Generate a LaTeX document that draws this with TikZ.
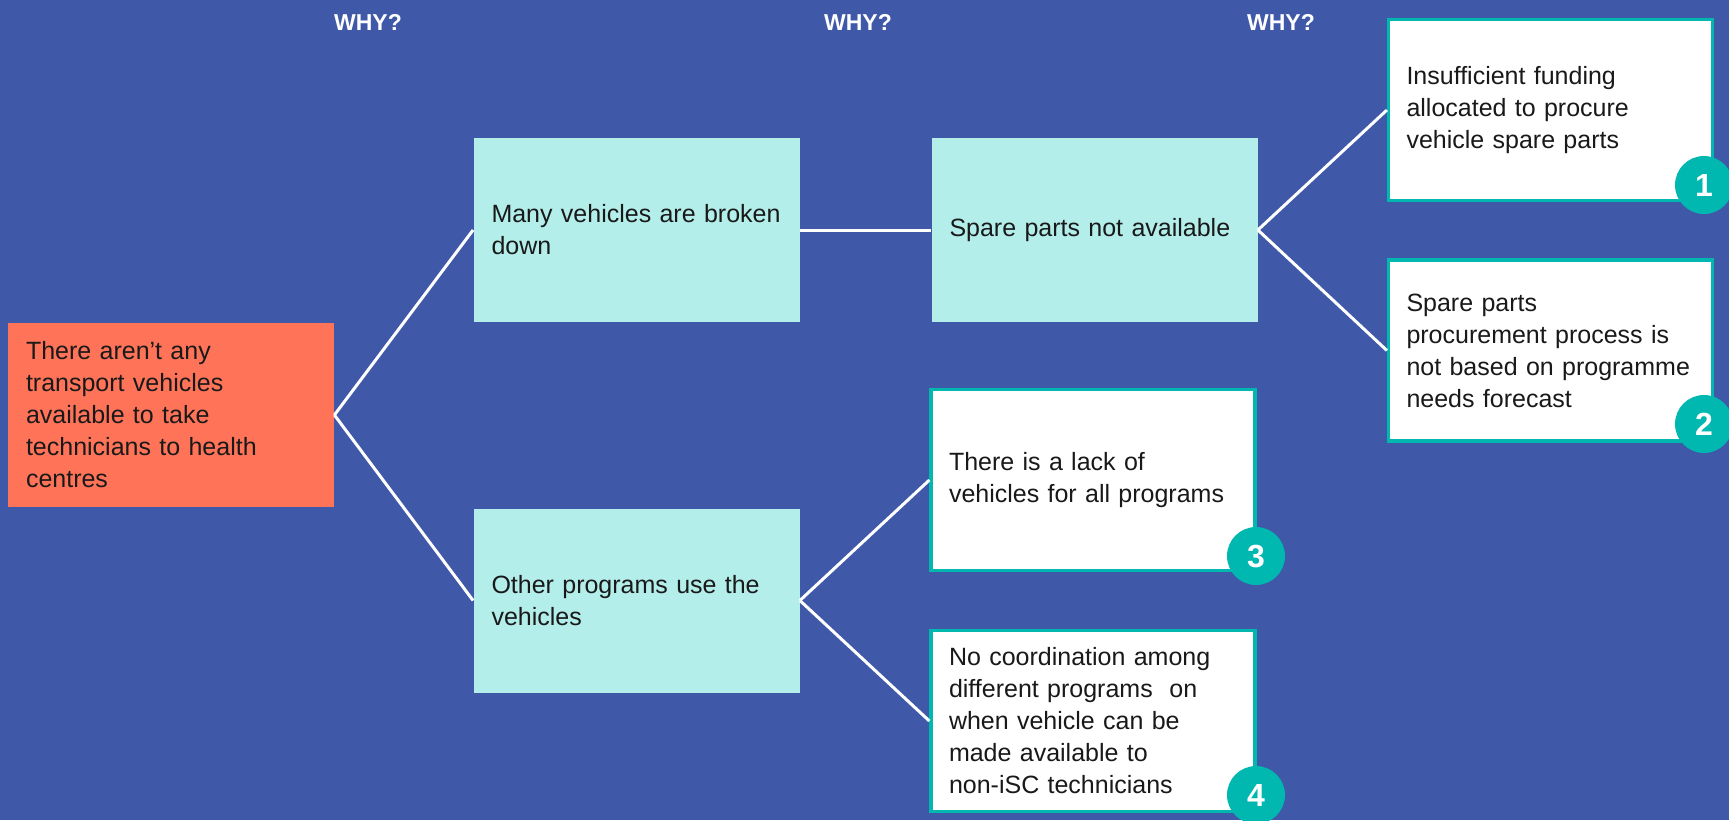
\documentclass[tikz,border=0pt]{standalone}
\usepackage{fontspec}
\setmainfont{Liberation Sans}
\usetikzlibrary{calc}
\usetikzlibrary{arrows,shapes}

\definecolor{bg}{HTML}{3F58A8}
\definecolor{rootred}{HTML}{FF7459}
\definecolor{paleteal}{HTML}{B3EEEA}
\definecolor{teal}{HTML}{00B8B0}

\tikzset{
  cause/.style={rectangle,anchor=center,minimum width=163pt,minimum height=92pt,
    text width=145pt,inner xsep=9pt,align=left,font=\fontsize{12.5pt}{16pt}\selectfont,text=black!90,
    execute at begin node={\hyphenpenalty=10000\exhyphenpenalty=10000}},
  rootbox/.style={cause,fill=rootred},
  whybox/.style={cause,fill=paleteal},
  leafbox/.style={cause,fill=white,draw=teal,line width=1.6pt,minimum width=162pt,minimum height=90.5pt,text width=144pt},
  badge/.style={circle,fill=teal,minimum size=29pt,inner sep=0pt,text=white,font=\bfseries\fontsize{16pt}{16pt}\selectfont},
  why/.style={text=white,font=\bfseries\fontsize{11.5pt}{11.5pt}\selectfont},
  link/.style={white,line width=1.5pt}
}

\begin{document}
\begin{tikzpicture}[x=0.5pt,y=-0.5pt]

\fill[bg] (0,0) rectangle (1729,820);
\useasboundingbox (0,0) rectangle (1729,820);

    \node[why] (y1) at (368,22) {WHY?};
    \node[why] (y2) at (858,22) {WHY?};
    \node[why] (y3) at (1281,22) {WHY?};

    \node[rootbox] (r) at (171,415) {There aren't any\\ transport vehicles\\ available to take\\ technicians to health\\ centres};

    \node[whybox] (a) at (636.5,230) {Many vehicles are broken\\ down};
    \node[whybox] (b) at (636.5,600.5) {Other programs use the\\ vehicles};
    \node[whybox] (c) at (1094.5,230) {Spare parts not available};

    \node[leafbox] (d) at (1550.5,110) {Insufficient funding\\ allocated to procure\\ vehicle spare parts};
    \node[leafbox] (e) at (1550.5,350.5) {Spare parts\\ procurement process is\\ not based on programme\\ needs forecast};
    \node[leafbox] (f) at (1093,480) {There is a lack of\\ vehicles for all programs};
    \node[leafbox] (g) at (1093,721) {No coordination among\\ different programs\ \ on\\ when vehicle can be\\ made available to\\ non-iSC technicians};

    \node[badge] (n1) at (1704,185) {1};
    \node[badge] (n2) at (1704,424) {2};
    \node[badge] (n3) at (1256,556) {3};
    \node[badge] (n4) at (1256,795) {4};

    \draw[link] (r.east) -- (a.west);
    \draw[link] (r.east) -- (b.west);
    \draw[link] (a.east) -- (c.west);
    \draw[link] (b.east) -- (f.west);
    \draw[link] (b.east) -- (g.west);
    \draw[link] (c.east) -- (d.west);
    \draw[link] (c.east) -- (e.west);

\end{tikzpicture}
\end{document}
